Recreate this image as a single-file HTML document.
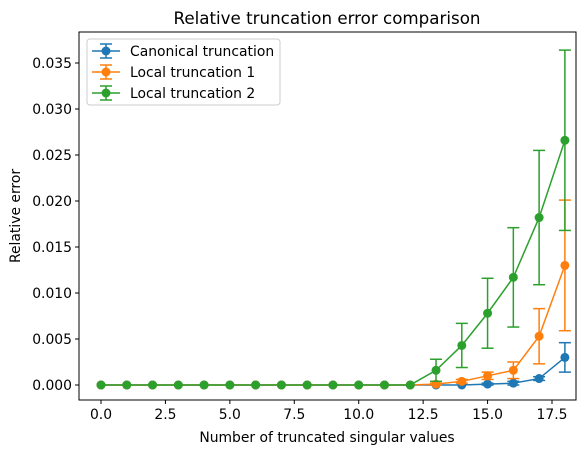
<!DOCTYPE html>
<html><head><meta charset="utf-8"><style>
body{margin:0;background:#fff;font-family:"Liberation Sans",sans-serif}
svg text{font-family:"DejaVu Sans","Liberation Sans",sans-serif;font-size:13.9px;fill:#000}
</style></head><body>
<svg id="c" width="584" height="455"></svg>
<script>
const xs=[0,1,2,3,4,5,6,7,8,9,10,11,12,13,14,15,16,17,18];
const canonical=[0,0,0,0,0,0,0,0,0,0,0,0,0,0,0,0.0001,0.0002,0.0007,0.0030];
const canonicalErr=[0,0,0,0,0,0,0,0,0,0,0,0,0,0,0,0.0001,0.0002,0.0002,0.0016];
const local1=[0,0,0,0,0,0,0,0,0,0,0,0,0,0.0001,0.0004,0.0010,0.0016,0.0053,0.0130];
const local1Err=[0,0,0,0,0,0,0,0,0,0,0,0,0,0.0001,0.0002,0.0004,0.0009,0.0030,0.0071];
const local2=[0,0,0,0,0,0,0,0,0,0,0,0,0,0.0016,0.0043,0.0078,0.0117,0.0182,0.0266];
const local2Err=[0,0,0,0,0,0,0,0,0,0,0,0,0,0.0012,0.0024,0.0038,0.0054,0.0073,0.0098];
const xTicks=[0,2.5,5,7.5,10,12.5,15,17.5];
const yTicks=[0,0.005,0.010,0.015,0.020,0.025,0.030,0.035];
const L=79,R=576,T=32,B=400;
const X=v=>101+v*(552-101)/17.5;
const Y=v=>385-v*(385-63)/0.035;
const svg=document.getElementById('c');const NS='http://www.w3.org/2000/svg';
function el(t,a,p){const e=document.createElementNS(NS,t);for(const k in a)e.setAttribute(k,a[k]);(p||svg).appendChild(e);return e;}
let t=el('text',{x:327,y:24,'text-anchor':'middle'});t.textContent='Relative truncation error comparison';t.style.fontSize='16.7px';

xTicks.forEach(v=>{el('line',{x1:X(v),x2:X(v),y1:B,y2:B+4,stroke:'#000'});const s=el('text',{x:X(v),y:B+19,'text-anchor':'middle'});s.textContent=v.toFixed(1);
});
yTicks.forEach(v=>{el('line',{x1:L-4,x2:L,y1:Y(v),y2:Y(v),stroke:'#000'});const s=el('text',{x:L-7,y:Y(v)+5,'text-anchor':'end'});s.textContent=v.toFixed(3);
});
t=el('text',{x:327,y:442,'text-anchor':'middle'});t.textContent='Number of truncated singular values';

t=el('text',{x:20,y:216,'text-anchor':'middle',transform:'rotate(-90 20 216)'});t.textContent='Relative error';

const series=[[canonical,canonicalErr,'#1f77b4','canonical'],[local1,local1Err,'#ff7f0e','local-1'],[local2,local2Err,'#2ca02c','local-2']];
series.forEach(([v,e,c,n])=>{
 const g=el('g',{});
 xs.forEach((x,i)=>{if(e[i]>0){const px=X(x);el('line',{x1:px,x2:px,y1:Y(v[i]-e[i]),y2:Y(v[i]+e[i]),stroke:c,'stroke-width':1.5},g);
  [v[i]-e[i],v[i]+e[i]].forEach(w=>el('line',{x1:px-6,x2:px+6,y1:Y(w),y2:Y(w),stroke:c,'stroke-width':1.5},g));}});
 el('polyline',{points:xs.map((x,i)=>X(x)+','+Y(v[i])).join(' '),fill:'none',stroke:c,'stroke-width':1.5},g);
 xs.forEach((x,i)=>{const p=el('circle',{cx:X(x),cy:Y(v[i]),r:4.5,fill:c},g);});
});
el('rect',{x:L,y:T,width:R-L,height:B-T,fill:'none',stroke:'#000','stroke-width':1});
const lg=el('g',{});
el('rect',{x:87,y:39,width:193,height:66,rx:3,fill:'#fff','fill-opacity':0.8,stroke:'#ccc'},lg);
['Canonical truncation','Local truncation 1','Local truncation 2'].forEach((s,i)=>{
 const c=series[i][2],y=51+i*21;
 const ge=el('g',{},lg);
 el('line',{x1:92,x2:120,y1:y,y2:y,stroke:c,'stroke-width':1.5},ge);
 el('line',{x1:106,x2:106,y1:y-7,y2:y+7,stroke:c,'stroke-width':1.5},ge);
 el('line',{x1:100,x2:112,y1:y-7,y2:y-7,stroke:c,'stroke-width':1.5},ge);
 el('line',{x1:100,x2:112,y1:y+7,y2:y+7,stroke:c,'stroke-width':1.5},ge);
 el('circle',{cx:106,cy:y,r:4.5,fill:c},ge);
 const tt=el('text',{x:130,y:y+5},ge);tt.textContent=s;
});
</script>
</body></html>
